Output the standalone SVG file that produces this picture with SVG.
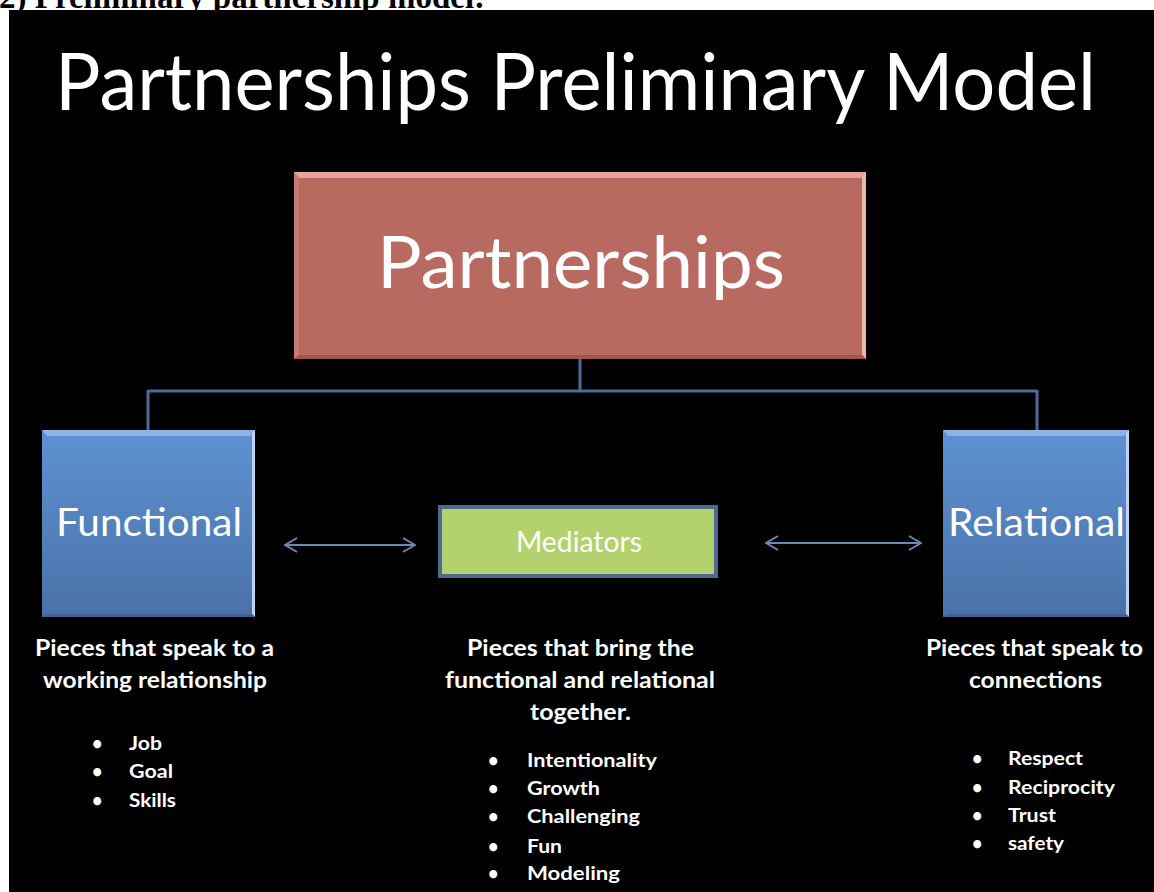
<svg xmlns="http://www.w3.org/2000/svg" width="1154" height="892" viewBox="0 0 1154 892">
<defs>
<style>
.t{font-family:Lato,"Open Sans","Noto Sans",sans-serif;fill:#FFFFFF}
.hd{font-family:Lato,"Open Sans",sans-serif;font-weight:bold;font-size:22px;fill:#FFFFFF}
.bl{font-family:Lato,"Open Sans",sans-serif;font-weight:bold;font-size:18px;fill:#FFFFFF}
.conn{stroke:#4C6C98;stroke-width:3;fill:none}
.arr{stroke:#6A8AB6;stroke-width:2;fill:none}
</style>
<linearGradient id="blue" x1="0" y1="0" x2="0" y2="1">
<stop offset="0" stop-color="#5D91D3"/>
<stop offset="1" stop-color="#4A72A7"/>
</linearGradient>
<marker id="head" viewBox="0 0 14 16" refX="13" refY="8" markerWidth="14" markerHeight="16" markerUnits="userSpaceOnUse" orient="auto-start-reverse">
<path d="M1,1 L13,8 L1,15" fill="none" stroke="#6A8AB6" stroke-width="2"/>
</marker>
</defs>
<rect x="0" y="0" width="1154" height="892" fill="#FFFFFF"/>
<text x="-1" y="8" font-family="'Liberation Serif',serif" font-weight="bold" font-size="33" fill="#000000">2) Preliminary partnership model:</text>
<rect x="9" y="10" width="1145" height="882" fill="#000000"/>

<g id="title">
<text class="t" x="55" y="110" font-size="80" textLength="1041" lengthAdjust="spacingAndGlyphs">Partnerships Preliminary Model</text>
</g>

<g id="connectors">
<path class="conn" d="M580,359 V391 M148,391 H1037 M148,390 V430 M1037,390 V430"/>
<line class="arr" x1="285" y1="545" x2="415" y2="545" marker-start="url(#head)" marker-end="url(#head)"/>
<line class="arr" x1="766" y1="543" x2="921" y2="543" marker-start="url(#head)" marker-end="url(#head)"/>
</g>

<g id="partnerships">
<rect x="294" y="172" width="572" height="187" fill="#B96A60"/>
<polygon points="294,172 866,172 861,178 299,178" fill="#E7A39B"/>
<polygon points="294,172 299,178 299,354 294,359" fill="#C67A70"/>
<polygon points="866,172 866,359 862,355 862,176" fill="#E9B6AF"/>
<polygon points="294,359 866,359 862,355 299,355" fill="#9E564D"/>
<text class="t" x="377" y="288" font-size="72" textLength="408" lengthAdjust="spacingAndGlyphs">Partnerships</text>
</g>

<g id="functional">
<rect x="42" y="430" width="213" height="187" fill="url(#blue)"/>
<polygon points="42,430 255,430 250,436 47,436" fill="#8DB4E4"/>
<polygon points="255,430 255,617 252,614 252,433" fill="#BBD3F0"/>
<polygon points="42,617 255,617 252,614 46,614" fill="#3E6394"/>
<text class="t" x="56" y="536" font-size="39" textLength="186" lengthAdjust="spacingAndGlyphs">Functional</text>
</g>

<g id="relational">
<rect x="943" y="430" width="186" height="187" fill="url(#blue)"/>
<polygon points="943,430 1129,430 1124,436 948,436" fill="#8DB4E4"/>
<polygon points="1129,430 1129,617 1126,614 1126,433" fill="#BBD3F0"/>
<polygon points="943,617 1129,617 1126,614 947,614" fill="#3E6394"/>
<text class="t" x="948" y="536" font-size="39" textLength="177" lengthAdjust="spacingAndGlyphs">Relational</text>
</g>

<g id="mediators">
<rect x="440" y="507" width="276" height="69" fill="#B3D16C" stroke="#4D6A92" stroke-width="4"/>
<text class="t" x="516" y="552" font-size="28" fill="#FBFBEF" textLength="126" lengthAdjust="spacingAndGlyphs">Mediators</text>
</g>

<g id="functional-notes">
<text class="hd" x="35" y="656" textLength="239" lengthAdjust="spacingAndGlyphs">Pieces that speak to a</text>
<text class="hd" x="43" y="688" textLength="224" lengthAdjust="spacingAndGlyphs">working relationship</text>
<text class="bl" x="92" y="750">•</text>
<text class="bl" x="129" y="750" textLength="33" lengthAdjust="spacingAndGlyphs">Job</text>
<text class="bl" x="92" y="778">•</text>
<text class="bl" x="129" y="778" textLength="44" lengthAdjust="spacingAndGlyphs">Goal</text>
<text class="bl" x="92" y="807">•</text>
<text class="bl" x="129" y="807" textLength="47" lengthAdjust="spacingAndGlyphs">Skills</text>
</g>

<g id="mediator-notes">
<text class="hd" x="467" y="656" textLength="227" lengthAdjust="spacingAndGlyphs">Pieces that bring the</text>
<text class="hd" x="445" y="688" textLength="270" lengthAdjust="spacingAndGlyphs">functional and relational</text>
<text class="hd" x="530" y="720" textLength="101" lengthAdjust="spacingAndGlyphs">together.</text>
<text class="bl" x="488" y="767">•</text>
<text class="bl" x="527" y="767" textLength="130" lengthAdjust="spacingAndGlyphs">Intentionality</text>
<text class="bl" x="488" y="795">•</text>
<text class="bl" x="527" y="795" textLength="73" lengthAdjust="spacingAndGlyphs">Growth</text>
<text class="bl" x="488" y="823">•</text>
<text class="bl" x="527" y="823" textLength="113" lengthAdjust="spacingAndGlyphs">Challenging</text>
<text class="bl" x="488" y="853">•</text>
<text class="bl" x="527" y="853" textLength="35" lengthAdjust="spacingAndGlyphs">Fun</text>
<text class="bl" x="488" y="880">•</text>
<text class="bl" x="527" y="880" textLength="93" lengthAdjust="spacingAndGlyphs">Modeling</text>
</g>

<g id="relational-notes">
<text class="hd" x="926" y="656" textLength="217" lengthAdjust="spacingAndGlyphs">Pieces that speak to</text>
<text class="hd" x="969" y="688" textLength="133" lengthAdjust="spacingAndGlyphs">connections</text>
<text class="bl" x="972" y="765">•</text>
<text class="bl" x="1008" y="765" textLength="75" lengthAdjust="spacingAndGlyphs">Respect</text>
<text class="bl" x="972" y="794">•</text>
<text class="bl" x="1008" y="794" textLength="107" lengthAdjust="spacingAndGlyphs">Reciprocity</text>
<text class="bl" x="972" y="822">•</text>
<text class="bl" x="1008" y="822" textLength="48" lengthAdjust="spacingAndGlyphs">Trust</text>
<text class="bl" x="972" y="850">•</text>
<text class="bl" x="1008" y="850" textLength="56" lengthAdjust="spacingAndGlyphs">safety</text>
</g>
</svg>
